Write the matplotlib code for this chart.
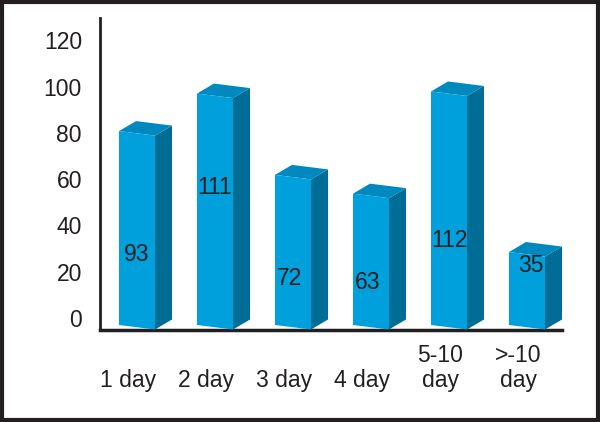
import matplotlib.pyplot as plt
from matplotlib.patches import Polygon, Rectangle

plt.rcParams['font.family'] = ['Liberation Sans', 'DejaVu Sans']

# --- DATA ---
categories = ["1 day", "2 day", "3 day", "4 day", "5-10\nday", ">-10\nday"]
counts = [93, 111, 72, 63, 112, 35]
tick_vals = [0, 20, 40, 60, 80, 100, 120]

# where the count sits inside each bar (bar units), as in the original
label_y = [34, 66, 22.5, 20.6, 40.3, 28.3]
label_dx = [0, 0, -0.04, -0.04, 0, 0.05]

# --- STYLE ---
FRONT = '#00a0dc'
SIDE = '#006d96'
TOP = '#0088bf'
INK = '#231f20'
FS = 16.5
W = 36 / 78          # front face width
DX = 17 / 78         # depth, x
DY = 10 / 2.085      # depth, y
SL = 4.5 / 2.085     # perspective droop of the front face

fig = plt.figure(figsize=(6, 4.22), dpi=100, facecolor='white')
ax = fig.add_axes([100 / 600, 92 / 422, 462 / 600, 312 / 422])
ax.set_facecolor('none')

# axis with the printed tick scale
ax.set_xlim(-37 / 78, 425 / 78)
ax.set_ylim(-12 / 2.315, 300 / 2.315)
ax.set_yticks(tick_vals)
ax.set_yticklabels([str(v) for v in tick_vals])
ax.tick_params(axis='y', length=0, pad=13, labelsize=FS, labelcolor=INK)
ax.set_xticks([])
for s in ['top', 'right']:
    ax.spines[s].set_visible(False)
ax.spines['left'].set_linewidth(2)
ax.spines['bottom'].set_linewidth(2.5)
ax.spines['left'].set_color(INK)
ax.spines['bottom'].set_color(INK)

# bars live on their own scale
axb = ax.twinx()
axb.set_ylim(-5 / 2.085, 307 / 2.085)
axb.axis('off')

for i, h in enumerate(counts):
    x0, x1 = i - W / 2, i + W / 2
    front = [(x0, 0), (x1, -SL), (x1, h - SL), (x0, h)]
    side = [(x1, -SL), (x1 + DX, -SL + DY), (x1 + DX, h - SL + DY), (x1, h - SL)]
    top = [(x0, h), (x0 + DX, h + DY), (x1 + DX, h - SL + DY), (x1, h - SL)]
    for pts, c in [(side, SIDE), (top, TOP), (front, FRONT)]:
        axb.add_patch(Polygon(pts, closed=True, facecolor=c, edgecolor='none',
                              clip_on=False, zorder=3))
    axb.text(i + label_dx[i], label_y[i], str(h), ha='center', va='center',
             fontsize=FS, color=INK, zorder=4)
    ax.text(i - 0.11, -0.2, categories[i], transform=ax.get_xaxis_transform(),
            ha='center', va='bottom', multialignment='center',
            fontsize=FS, color=INK, linespacing=1.15)

# dark frame round the picture
fig.patches.append(Rectangle((0.003, 0.004), 0.994, 0.992, transform=fig.transFigure,
                             fill=False, edgecolor=INK, linewidth=3))

fig.savefig('out.png', dpi=100, facecolor='white')
